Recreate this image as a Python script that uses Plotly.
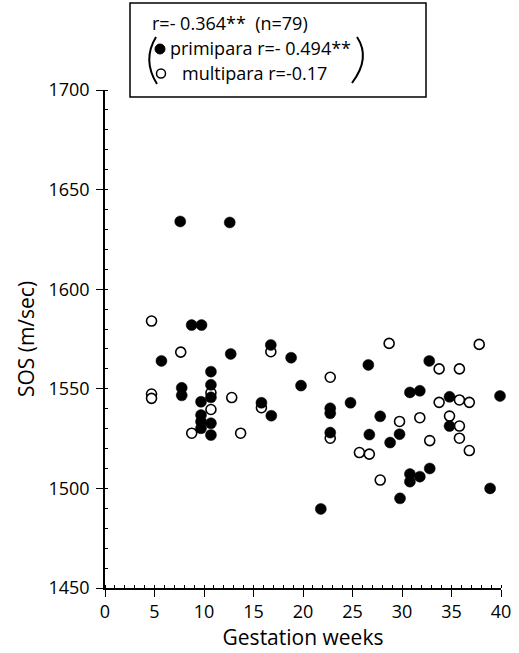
import plotly.graph_objects as go

# Primipara (filled circles)
prim_weeks = [7.6, 12.6, 8.75, 9.75, 5.7, 12.7, 10.7, 10.7, 10.7, 7.75, 7.75,
              9.7, 9.7, 9.7, 9.7, 10.7, 10.7, 16.75, 18.8, 19.8, 15.8, 16.8,
              22.75, 22.75, 24.8, 22.75, 26.6, 26.7, 21.8, 32.75, 30.8, 31.8,
              34.8, 39.9, 27.8, 34.8, 29.75, 28.8, 30.8, 31.8, 30.8, 32.8,
              29.8, 38.9]
prim_sos = [1634, 1633.5, 1582, 1582, 1564, 1567.5, 1558.6, 1552, 1545.7, 1550.5, 1546.7,
            1543.5, 1536.8, 1533.5, 1530.2, 1532.7, 1526.8, 1572, 1565.6, 1551.6, 1543, 1536.5,
            1540.2, 1537.7, 1543, 1528, 1562, 1527, 1489.7, 1564, 1548.2, 1549,
            1546, 1546.4, 1536.2, 1531.3, 1527.2, 1523, 1507.2, 1505.9, 1503.4, 1510,
            1495, 1500]

# Multipara (open circles)
mult_weeks = [4.7, 7.65, 4.7, 4.7, 10.7, 12.8, 10.7, 8.76, 13.7, 16.75, 22.75,
              15.8, 22.75, 25.7, 26.7, 28.7, 37.8, 33.75, 35.8, 33.75, 35.8,
              36.8, 29.75, 31.8, 34.8, 35.8, 32.8, 35.8, 36.8, 27.8]
mult_sos = [1584, 1568.4, 1547.4, 1545.2, 1548, 1545.6, 1539.6, 1527.7, 1527.7, 1568.6, 1555.8,
            1540.5, 1525.2, 1518, 1517.2, 1572.8, 1572.3, 1560, 1560, 1543.2, 1544.4,
            1543.2, 1533.6, 1535.5, 1536.3, 1531.3, 1524, 1525.2, 1519, 1504.2]

x_ticks = [0, 5, 10, 15, 20, 25, 30, 35, 40]
y_ticks = [1450, 1500, 1550, 1600, 1650, 1700]

FONT = "Open Sans"

fig = go.Figure()
fig.add_trace(go.Scatter(
    x=mult_weeks, y=mult_sos, mode="markers",
    marker=dict(symbol="circle", size=10, color="white",
                line=dict(color="black", width=1.6)),
    showlegend=False, cliponaxis=False))
fig.add_trace(go.Scatter(
    x=prim_weeks, y=prim_sos, mode="markers",
    marker=dict(symbol="circle", size=11, color="black",
                line=dict(color="black", width=0.5)),
    showlegend=False, cliponaxis=False))

W, H = 519, 653
L, R, T, B = 105, 18, 90, 65
pw, ph = W - L - R, H - T - B

def px(xp):
    return (xp - L) / pw

def py(yp):
    return (H - B - yp) / ph

fig.update_layout(
    width=W, height=H,
    margin=dict(l=L, r=R, t=T, b=B, autoexpand=False),
    paper_bgcolor="white", plot_bgcolor="white",
    font=dict(family=FONT, color="black", size=18),
    xaxis=dict(range=[0, 40], tickvals=x_ticks, ticks="outside", ticklen=7,
               tickwidth=1.2, tickcolor="black", showline=True, linecolor="black",
               linewidth=1.5, showgrid=False, zeroline=False,
               tickfont=dict(size=18, family=FONT),
               minor=dict(dtick=1, ticks="inside", ticklen=3, tickcolor="black", tickwidth=1),
               title=dict(text="Gestation weeks", font=dict(size=21, family=FONT), standoff=4)),
    yaxis=dict(range=[1450, 1700], tickvals=y_ticks, ticks="outside", ticklen=7,
               tickwidth=1.2, tickcolor="black", showline=True, linecolor="black",
               linewidth=1.5, showgrid=False, zeroline=False,
               tickfont=dict(size=18, family=FONT), ticklabelstandoff=3,
               minor=dict(dtick=10, ticks="inside", ticklen=3, tickcolor="black", tickwidth=1),
               title=dict(text="SOS (m/sec)", font=dict(size=21, family=FONT), standoff=8)),
)

# Legend box
fig.add_shape(type="rect", xref="paper", yref="paper",
              x0=px(130), x1=px(426), y0=py(97), y1=py(3),
              line=dict(color="black", width=1.5), fillcolor="white", layer="above")

# legend symbols
fig.add_shape(type="circle", xref="paper", yref="paper",
              x0=px(155), x1=px(165), y0=py(54), y1=py(44),
              line=dict(color="black", width=1), fillcolor="black", layer="above")
fig.add_shape(type="circle", xref="paper", yref="paper",
              x0=px(156.5), x1=px(165.5), y0=py(78), y1=py(69),
              line=dict(color="black", width=1.5), fillcolor="white", layer="above")

# bracket strokes around the two sub-group lines
def bracket(pts):
    (x0, y0), (xc, yc), (x1, y1) = pts
    return (f"M {px(x0)},{py(y0)} Q {px(xc)},{py(yc)} {px(x1)},{py(y1)}")

fig.add_shape(type="path", xref="paper", yref="paper",
              path=bracket([(156, 37), (142, 60), (157, 84)]),
              line=dict(color="black", width=2), layer="above")
fig.add_shape(type="path", xref="paper", yref="paper",
              path=bracket([(357, 37), (371, 58), (352, 83)]),
              line=dict(color="black", width=2), layer="above")

ann = [
    dict(text="r=- 0.364**  (n=79)", x=px(150), y=py(23)),
    dict(text="primipara r=- 0.494**", x=px(168), y=py(48)),
    dict(text="multipara r=-0.17", x=px(180), y=py(73)),
]
for a in ann:
    fig.add_annotation(text=a["text"], x=a["x"], y=a["y"], xref="paper", yref="paper",
                       xanchor="left", yanchor="middle", showarrow=False,
                       font=dict(size=18, family=FONT, color="black"))

fig.write_html("out.html")
